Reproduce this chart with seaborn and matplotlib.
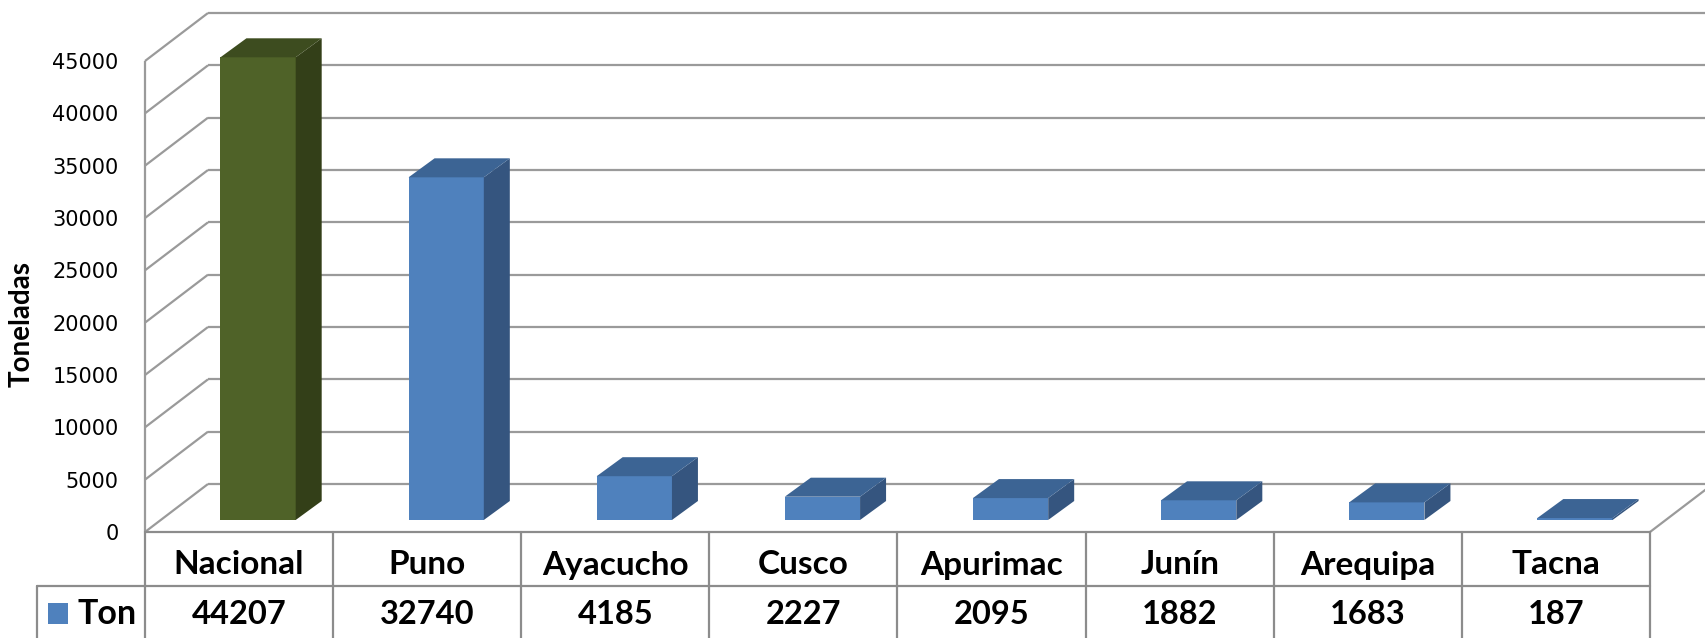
import numpy as np
import pandas as pd
import matplotlib
matplotlib.use("Agg")
import matplotlib.pyplot as plt
import seaborn as sns
from matplotlib.patches import Polygon, Rectangle
from matplotlib.lines import Line2D
from matplotlib import transforms

# ---- data ----
regions = ["Nacional", "Puno", "Ayacucho", "Cusco", "Apurimac", "Junín", "Arequipa", "Tacna"]
toneladas = [44207, 32740, 4185, 2227, 2095, 1882, 1683, 187]
series_name = "Ton"
y_ticks = [0, 5000, 10000, 15000, 20000, 25000, 30000, 35000, 40000, 45000]
y_title = "Toneladas"

# ---- styling ----
FRONT = {"Nacional": "#4F6228"}
TOP = {"Nacional": "#3D4C1F"}
SIDE = {"Nacional": "#333F18"}
BLUE_FRONT, BLUE_TOP, BLUE_SIDE = "#4F81BD", "#3C6494", "#35557F"
GRID = "#9A9A9A"
TABLE_LINE = "#8C8C8C"
LABEL_FONT = ["Lato", "DejaVu Sans"]

sns.set_theme(style="white")
plt.rcParams["font.family"] = ["DejaVu Sans"]

W, H = 1706, 638
fig = plt.figure(figsize=(W / 100, H / 100), dpi=100)
fig.patch.set_facecolor("white")

# front plane of the plot box in pixels
px_left, px_right = 145, 1650
px_zero, px_top = 532, 61
ax = fig.add_axes([px_left / W, 1 - px_zero / H,
                   (px_right - px_left) / W, (px_zero - px_top) / H])
ax.set_facecolor("none")
n = len(regions)
ax.set_xlim(-0.5, n - 0.5)
ax.set_ylim(0, y_ticks[-1])

ux = n / (px_right - px_left)            # data units per pixel (x)
uy = y_ticks[-1] / (px_zero - px_top)    # data units per pixel (y)


def depth(dx_px, dy_px):
    return dx_px * ux, dy_px * uy


wall_dx, wall_dy = depth(63, 48)
bar_fx, bar_fy = depth(19, 12)
bar_bx, bar_by = depth(45, 31)

# ---- walls and gridlines ----
grid_kw = dict(color=GRID, lw=1.6, clip_on=False, zorder=1, solid_capstyle="butt")
x_back0 = -0.5 + wall_dx
x_far = n - 0.5 + wall_dx + 1.0
for v in y_ticks:
    ax.add_line(Line2D([x_back0, x_far], [v + wall_dy, v + wall_dy], **grid_kw))
    ax.add_line(Line2D([-0.5, x_back0], [v, v + wall_dy], **grid_kw))
ax.add_line(Line2D([-0.5, -0.5], [0, y_ticks[-1]], **grid_kw))
ax.add_line(Line2D([n - 0.5, n - 0.5 + wall_dx], [0, wall_dy], **grid_kw))

# ---- bars ----
df = pd.DataFrame({"Región": regions, "Toneladas": toneladas})
palette = {r: FRONT.get(r, BLUE_FRONT) for r in regions}
sns.barplot(data=df, x="Región", y="Toneladas", hue="Región", palette=palette,
            width=0.4, saturation=1, linewidth=0, legend=False, ax=ax, zorder=3)

shift = transforms.Affine2D().translate(bar_fx, bar_fy) + ax.transData
bars = sorted(ax.patches, key=lambda p: p.get_x())
for region, bar in zip(regions, bars):
    bar.set_transform(shift)
    bar.set_clip_on(False)
    x0 = bar.get_x()
    w = bar.get_width()
    h = bar.get_height()
    top = [(x0 + bar_fx, h + bar_fy), (x0 + w + bar_fx, h + bar_fy),
           (x0 + w + bar_bx, h + bar_by), (x0 + bar_bx, h + bar_by)]
    side = [(x0 + w + bar_fx, bar_fy), (x0 + w + bar_bx, bar_by),
            (x0 + w + bar_bx, h + bar_by), (x0 + w + bar_fx, h + bar_fy)]
    ax.add_patch(Polygon(side, closed=True, facecolor=SIDE.get(region, BLUE_SIDE),
                         edgecolor="none", clip_on=False, zorder=3))
    ax.add_patch(Polygon(top, closed=True, facecolor=TOP.get(region, BLUE_TOP),
                         edgecolor="none", clip_on=False, zorder=3))

# ---- axes cosmetics ----
sns.despine(ax=ax, left=True, bottom=True)
ax.set_xlabel("")
ax.set_ylabel("")
ax.set_yticks(y_ticks)
ax.set_yticklabels([str(v) for v in y_ticks])
ax.tick_params(axis="y", length=0, pad=19, labelsize=15, labelcolor="black")
ax.tick_params(axis="x", length=0, labelbottom=False)
ax.grid(False)

fig.text(22 / W, 1 - 324 / H, y_title, rotation=90, ha="center", va="center",
         fontsize=20, fontweight="bold", family=LABEL_FONT, color="black")

# ---- data table under the plot ----
tbl = transforms.blended_transform_factory(ax.transData, fig.transFigure)
fy = lambda px: 1 - px / H
row_top, row_mid, row_bot = 532, 586, 640
line_kw = dict(color=TABLE_LINE, lw=1.6, clip_on=False, zorder=2)
ax.add_line(Line2D([-0.5, n - 0.5], [fy(row_top)] * 2, transform=tbl, **line_kw))
ax.add_line(Line2D([-0.5, n - 0.5], [fy(row_mid)] * 2, transform=tbl, **line_kw))
fig.add_artist(Line2D([37 / W, px_left / W], [fy(row_mid)] * 2, **line_kw))
fig.add_artist(Line2D([37 / W, 37 / W], [fy(row_mid), fy(row_bot)], **line_kw))
for k in range(n + 1):
    ax.add_line(Line2D([k - 0.5, k - 0.5], [fy(row_top), fy(row_bot)],
                       transform=tbl, **line_kw))

for i, (region, val) in enumerate(zip(regions, toneladas)):
    ax.text(i, fy(565), region, transform=tbl, ha="center", va="center",
            fontsize=24, fontweight="bold", family=LABEL_FONT, color="black")
    ax.text(i, fy(614), f"{val}", transform=tbl, ha="center", va="center",
            fontsize=23.5, fontweight="bold", family=LABEL_FONT, color="black")

fig.add_artist(Rectangle((48 / W, fy(624)), 20 / W, 21 / H,
                         transform=fig.transFigure, facecolor=BLUE_FRONT,
                         edgecolor="none"))
fig.text(107 / W, fy(614), series_name, ha="center", va="center",
         fontsize=24.5, fontweight="bold", family=LABEL_FONT, color="black")

fig.savefig("out.png", dpi=100, facecolor="white")
